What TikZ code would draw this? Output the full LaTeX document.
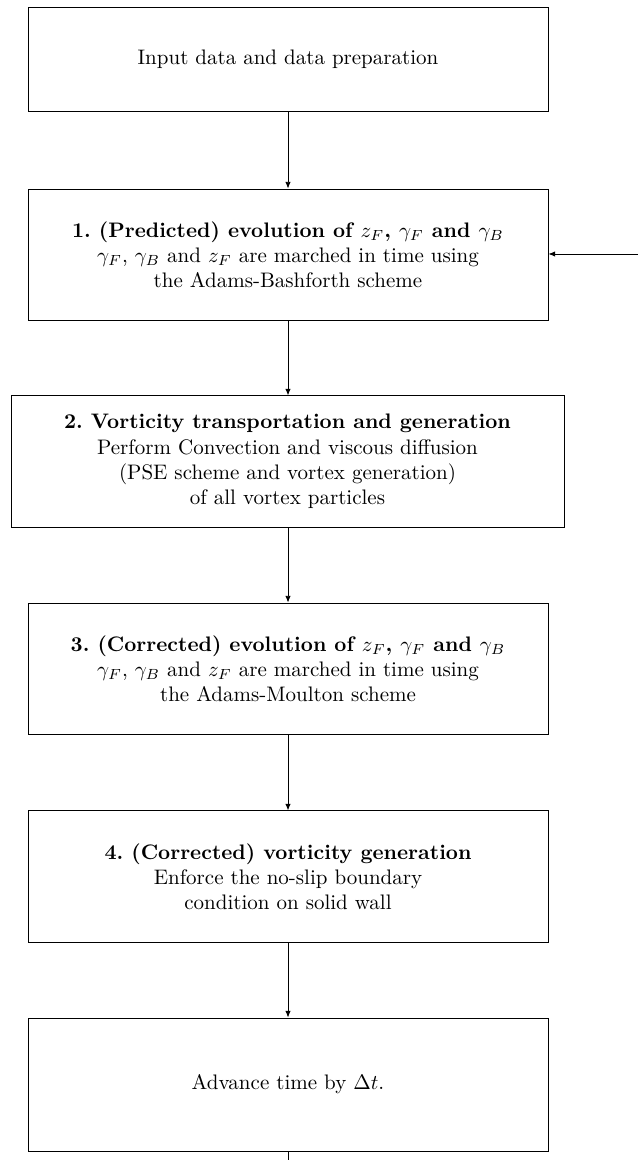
\documentclass[tikz,border=0pt]{standalone}
\usetikzlibrary{arrows.meta}
\frenchspacing
\begin{document}
\begin{tikzpicture}[x=0.476pt,y=-0.476pt,
  box/.style={draw, line width=0.45pt, align=center, inner sep=0pt, font=\normalsize},
  conn/.style={-{Latex[length=3.2pt,width=2.6pt]}, line width=0.4pt},
  plainline/.style={line width=0.4pt}]
\useasboundingbox (0,0) rectangle (638,1160);
\node[box, minimum width=247.5pt, minimum height=49.5pt] (b0) at (288,59)
  {Input data and data preparation};
\node[box, minimum width=247.5pt, minimum height=62.8pt] (b1) at (288,255)
  {\textbf{1. (Predicted) evolution of $z_F$, $\gamma_F$ and $\gamma_B$}\\
   $\gamma_F$, $\gamma_B$ and $z_F$ are marched in time using\\
   the Adams-Bashforth scheme};
\node[box, minimum width=263.2pt, minimum height=62.4pt] (b2) at (287.5,461.5)
  {\textbf{2. Vorticity transportation and generation}\\
   Perform Convection and viscous diffusion\\
   (PSE scheme and vortex generation)\\
   of all vortex particles};
\node[box, minimum width=247.5pt, minimum height=62.8pt] (b3) at (288,669)
  {\textbf{3. (Corrected) evolution of $z_F$, $\gamma_F$ and $\gamma_B$}\\
   $\gamma_F$, $\gamma_B$ and $z_F$ are marched in time using\\
   the Adams-Moulton scheme};
\node[box, minimum width=247.5pt, minimum height=62.4pt] (b4) at (288,876.5)
  {\textbf{4. (Corrected) vorticity generation}\\
   Enforce the no-slip boundary\\
   condition on solid wall};
\node[box, minimum width=247.5pt, minimum height=63.3pt] (b5) at (288,1084.5)
  {Advance time by $\Delta t$.};
\coordinate (loopin) at (638,254);
\coordinate (loopout) at (288,1160);
\draw[conn] (b0.south) -- (b1.north);
\draw[conn] (b1.south) -- (b2.north -| b1.south);
\draw[conn] (b2.south -| b1.south) -- (b3.north);
\draw[conn] (b3.south) -- (b4.north);
\draw[conn] (b4.south) -- (b5.north);
\draw[conn] (loopin) -- (loopin -| b1.east);
\draw[plainline] (b5.south) -- (loopout);
\end{tikzpicture}
\end{document}
